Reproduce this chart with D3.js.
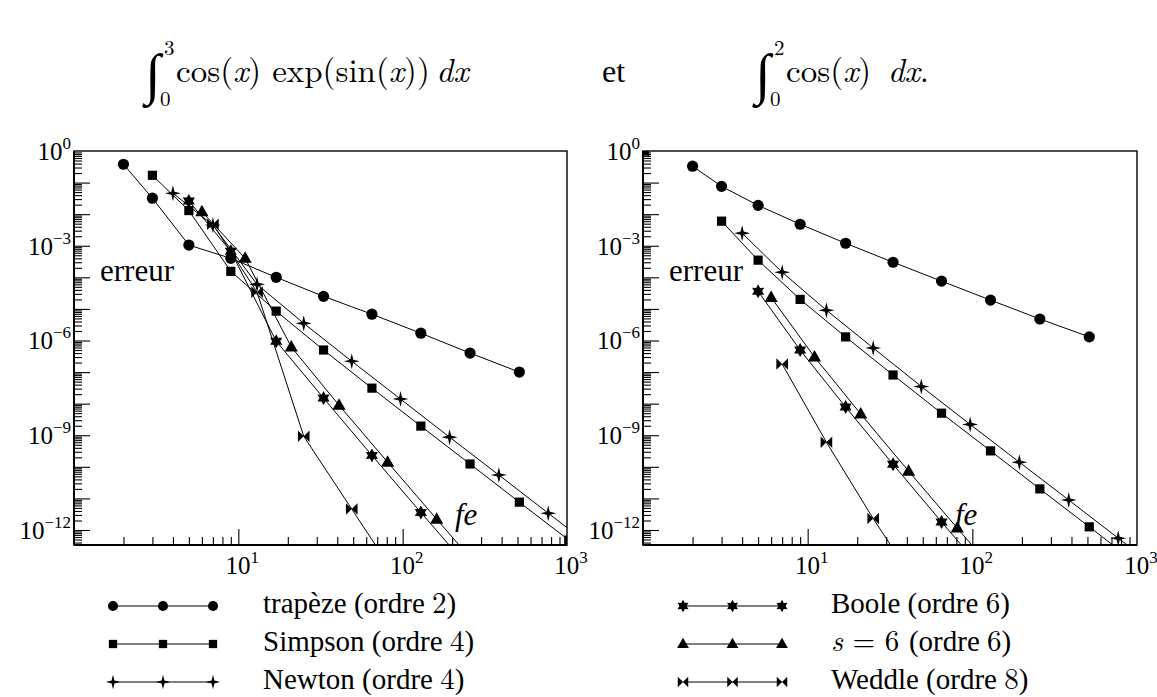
<!DOCTYPE html>
<html>
<head>
<meta charset="utf-8">
<script src="https://cdn.jsdelivr.net/npm/d3@7"></script>
</head>
<body style="margin:0;background:#fff">
<svg id="fig"></svg>
<script>
// number of function evaluations (fe) per method
const fe_trapeze = [2, 3, 5, 9, 17, 33, 65, 129, 257, 513];
const fe_simpson = [3, 5, 9, 17, 33, 65, 129, 257, 513, 1025];
const fe_newton  = [4, 7, 13, 25, 49, 97, 193, 385, 769, 1537];
const fe_boole   = [5, 9, 17, 33, 65, 129, 257];
const fe_s6      = [6, 11, 21, 41, 81, 161, 321];
const fe_weddle  = [7, 13, 25, 49, 97];

// errors, left plot: int_0^3 cos(x) exp(sin(x)) dx
const errA_trapeze = [3.8e-1, 3.2e-2, 1.05e-3, 4.0e-4, 1.0e-4, 2.5e-5, 6.8e-6, 1.7e-6, 4.0e-7, 1.0e-7];
const errA_simpson = [1.7e-1, 1.3e-2, 1.55e-4, 8.5e-6, 5.0e-7, 3.1e-8, 1.95e-9, 1.23e-10, 7.6e-12, 4.8e-13];
const errA_newton  = [4.6e-2, 4.5e-3, 6.0e-5, 3.5e-6, 2.2e-7, 1.4e-8, 8.7e-10, 5.5e-11, 3.4e-12, 2.1e-13];
const errA_boole   = [2.6e-2, 6.7e-4, 9.5e-7, 1.5e-8, 2.3e-10, 3.6e-12, 5.8e-14];
const errA_s6      = [1.2e-2, 4.0e-4, 6.2e-7, 8.9e-9, 1.4e-10, 2.2e-12, 3.5e-14];
const errA_weddle  = [4.8e-3, 3.4e-5, 9.3e-10, 4.6e-12, 2.1e-14];

// errors, right plot: int_0^2 cos(x) dx
const errB_trapeze = [3.3e-1, 7.6e-2, 1.9e-2, 4.8e-3, 1.2e-3, 3.0e-4, 7.6e-5, 1.9e-5, 4.8e-6, 1.3e-6];
const errB_simpson = [6.0e-3, 3.5e-4, 2.0e-5, 1.3e-6, 8.1e-8, 5.0e-9, 3.2e-10, 2.0e-11, 1.26e-12, 7.8e-14];
const errB_newton  = [2.5e-3, 1.45e-4, 9.1e-6, 5.8e-7, 3.5e-8, 2.2e-9, 1.4e-10, 8.9e-12, 5.5e-13, 3.5e-14];
const errB_boole   = [3.6e-5, 5.0e-7, 7.8e-9, 1.2e-10, 1.8e-12, 2.8e-14];
const errB_s6      = [2.3e-5, 3.0e-7, 4.7e-9, 7.3e-11, 1.15e-12, 1.8e-14];
const errB_weddle  = [1.8e-7, 6.0e-10, 2.3e-12, 1.1e-14];

const methodNames = ["trapèze", "Simpson", "Newton", "Boole", "s = 6", "Weddle"];
const methodOrders = [2, 4, 4, 6, 6, 8];
const markerTypes = ["circle", "square", "star4", "star6", "triangle", "bowtie"];

const xTickExps = [1, 2, 3];
const yTickExps = [0, -3, -6, -9, -12];

// layout
var width = 1157, height = 697;
var plotTop = 151, plotBottom = 545;
var panelX = [[74, 567], [643, 1137]];
var times = "'Liberation Serif', 'Times New Roman', Tinos";
var cm = "'Latin Modern Roman', 'CMU Serif', 'Liberation Serif'";

const svg = d3.select("#fig").attr("width", width).attr("height", height);

// fonts are set on every text / tspan itself
function txt(parent, fam, size) {
  return parent.append("text").style("font-family", fam || times).style("font-size", size + "px").style("fill", "#000");
}
function span(t, s, fam, italic) {
  var sp = t.append("tspan").style("font-family", fam || times).text(s);
  if (italic) sp.style("font-style", "italic");
  return sp;
}

const methods = [
  {fe: fe_trapeze, errs: [errA_trapeze, errB_trapeze]},
  {fe: fe_simpson, errs: [errA_simpson, errB_simpson]},
  {fe: fe_newton,  errs: [errA_newton,  errB_newton]},
  {fe: fe_boole,   errs: [errA_boole,   errB_boole]},
  {fe: fe_s6,      errs: [errA_s6,      errB_s6]},
  {fe: fe_weddle,  errs: [errA_weddle,  errB_weddle]}
];
methods.forEach((m, i) => { m.name = methodNames[i]; m.order = methodOrders[i]; m.marker = markerTypes[i]; });

function starPath(n, R, r) {
  var pts = [];
  for (var k = 0; k < 2 * n; k++) {
    var a = -Math.PI / 2 + k * Math.PI / n;
    var rr = k % 2 == 0 ? R : r;
    pts.push([rr * Math.cos(a), rr * Math.sin(a)]);
  }
  return "M" + pts.map(p => p[0].toFixed(2) + "," + p[1].toFixed(2)).join("L") + "Z";
}
function markerPath(type, s) {
  if (type == "circle") { var r = 5.6 * s; return "M" + r + ",0A" + r + "," + r + " 0 1 1 " + (-r) + ",0A" + r + "," + r + " 0 1 1 " + r + ",0Z"; }
  if (type == "square") { var h = 4.6 * s; return "M" + (-h) + "," + (-h) + "H" + h + "V" + h + "H" + (-h) + "Z"; }
  if (type == "star4") return starPath(4, 8 * s, 2.2 * s);
  if (type == "star6") return starPath(6, 7 * s, 4.0 * s);
  if (type == "triangle") return "M0," + (-7 * s) + "L" + (6.6 * s) + "," + (4.5 * s) + "L" + (-6.6 * s) + "," + (4.5 * s) + "Z";
  if (type == "bowtie") { var a = 5.8 * s, b = 5.8 * s; return "M" + (-a) + "," + (-b) + "L0,0L" + (-a) + "," + b + "Z M" + a + "," + (-b) + "L0,0L" + a + "," + b + "Z"; }
}

function addPow(t, exp) {
  span(t, "10");
  span(t, exp < 0 ? "\u2212" + (-exp) : "" + exp).attr("dy", -11).style("font-size", "17px");
}

// ---- two panels
panelX.forEach(function (px, pi) {
  var w = px[1] - px[0], h = plotBottom - plotTop;
  var xScale = d3.scaleLog().domain([1, 1000]).range([0, w]);
  var yScale = d3.scaleLog().domain([Math.pow(10, -12.475), 1]).range([h, 0]);
  var g = svg.append("g").attr("transform", "translate(" + px[0] + "," + plotTop + ")");

  var xMinor = [], xMajor = [10, 100];
  for (var e = 0; e < 3; e++) for (var k = 2; k <= 9; k++) xMinor.push(k * Math.pow(10, e));
  var yMinor = [], yMajor = [];
  for (var e = -13; e < 0; e++) {
    if (e >= -12) yMajor.push(Math.pow(10, e));
    for (var k = 2; k <= 9; k++) { var v = k * Math.pow(10, e); if (v >= Math.pow(10, -12.475)) yMinor.push(v); }
  }

  function tickAxis(axis, tr) {
    var a = g.append("g").attr("transform", tr).call(axis);
    a.select(".domain").remove();
    a.selectAll("line").attr("stroke", "#000").attr("stroke-width", 1.1);
    a.selectAll("text").remove();
  }
  tickAxis(d3.axisBottom(xScale).tickValues(xMinor).tickSize(-8).tickFormat(""), "translate(0," + h + ")");
  tickAxis(d3.axisBottom(xScale).tickValues(xMajor).tickSize(-16).tickFormat(""), "translate(0," + h + ")");
  tickAxis(d3.axisLeft(yScale).tickValues(yMinor).tickSize(-8).tickFormat(""), "translate(0,0)");
  tickAxis(d3.axisLeft(yScale).tickValues(yMajor).tickSize(-16).tickFormat(""), "translate(0,0)");

  g.append("rect").attr("x", 0).attr("y", 0).attr("width", w).attr("height", h)
    .attr("fill", "none").attr("stroke", "#000").attr("stroke-width", 1.4);
  g.append("line").attr("x1", 0).attr("x2", 0).attr("y1", 0).attr("y2", h).attr("stroke", "#000").attr("stroke-width", 2);
  g.append("line").attr("x1", 0).attr("x2", w).attr("y1", h).attr("y2", h).attr("stroke", "#000").attr("stroke-width", 2);

  // tick labels
  xTickExps.forEach(function (ex) {
    var t = txt(g, times, 25).attr("x", xScale(Math.pow(10, ex)) + 4).attr("y", h + 29).attr("text-anchor", "middle");
    addPow(t, ex);
  });
  yTickExps.forEach(function (ex) {
    var t = txt(g, times, 25).attr("x", -3).attr("y", yScale(Math.pow(10, ex)) + 9).attr("text-anchor", "end");
    addPow(t, ex);
  });

  var clipId = "clip" + pi;
  g.append("clipPath").attr("id", clipId).append("rect").attr("width", w).attr("height", h);
  var plot = g.append("g").attr("clip-path", "url(#" + clipId + ")");

  var line = d3.line().x(d => xScale(d[0])).y(d => yScale(d[1]));
  methods.forEach(function (m) {
    var pts = m.fe.map((f, i) => [f, m.errs[pi][i]]);
    plot.append("path").datum(pts).attr("d", line)
      .attr("fill", "none").attr("stroke", "#000").attr("stroke-width", 1);
    plot.selectAll(null).data(pts).enter().append("path")
      .attr("transform", d => "translate(" + xScale(d[0]) + "," + yScale(d[1]) + ")")
      .attr("d", markerPath(m.marker, 1)).attr("fill", "#000");
  });

  txt(g, times, 31).attr("x", 26).attr("y", 130).text("erreur");
  txt(g, times, 31).attr("x", pi == 0 ? 381 : 312).attr("y", 374).style("font-style", "italic").text("fe");
});

// ---- legend
var legX = [[113, 213, 263], [683, 782, 831]];
var legRowY = [606, 644, 682];
methods.forEach(function (m, i) {
  var col = Math.floor(i / 3), row = i % 3;
  var lx = legX[col], y = legRowY[row];
  var lg = svg.append("g");
  lg.append("line").attr("x1", lx[0]).attr("x2", lx[1]).attr("y1", y).attr("y2", y)
    .attr("stroke", "#000").attr("stroke-width", 1);
  [lx[0], (lx[0] + lx[1]) / 2, lx[1]].forEach(function (cx) {
    lg.append("path").attr("transform", "translate(" + cx + "," + y + ")")
      .attr("d", markerPath(m.marker, 0.9)).attr("fill", "#000");
  });
  var t = txt(lg, times, 29).attr("x", lx[2]).attr("y", y + 7);
  if (m.name == "s = 6") {
    span(t, "s", cm, true);
    span(t, " = 6 ", cm);
    span(t, "(ordre ");
  } else {
    span(t, m.name + " (ordre ");
  }
  span(t, "" + m.order, cm);
  span(t, ")");
});

// ---- formulas at the top
function integral(x, upper, body) {
  txt(svg, times, 56).attr("x", x).attr("y", 93).text("\u222B");
  txt(svg, cm, 21).attr("x", x + 19).attr("y", 55).text(upper);
  txt(svg, cm, 21).attr("x", x + 15).attr("y", 106).text("0");
  var t = txt(svg, cm, 33).attr("x", x + 31).attr("y", 82);
  body.forEach(function (p) { span(t, p[0], cm, p[1]); });
}
integral(145, "3", [["cos("], ["x", 1], [") exp(sin("], ["x", 1], ["))\u2009"], ["dx", 1]]);
txt(svg, times, 32).attr("x", 602).attr("y", 82).text("et");
integral(755, "2", [["cos("], ["x", 1], [")\u2002"], ["dx", 1], ["."]]);
</script>
</body>
</html>
